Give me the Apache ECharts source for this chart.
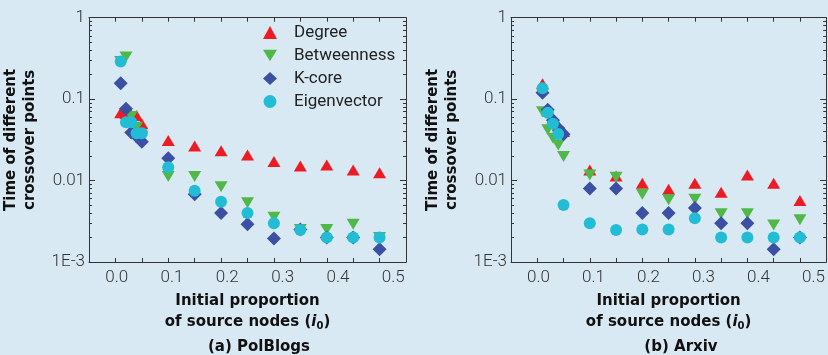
<!DOCTYPE html>
<html>
<head>
<meta charset="utf-8">
<script src="https://cdn.jsdelivr.net/npm/echarts@6/dist/echarts.min.js"></script>
<style>
  html, body { margin: 0; padding: 0; background: #d9e9f3; }
  #chart { width: 828px; height: 355px; }
</style>
</head>
<body>
<div id="chart"></div>
<script>
// initial proportion of source nodes
const xs = [0.01, 0.02, 0.03, 0.04, 0.05, 0.1, 0.15, 0.2, 0.25, 0.3, 0.35, 0.4, 0.45, 0.5]

// (a) PolBlogs
const degreeA = [0.068, 0.066, 0.064, 0.063, 0.05, 0.031, 0.0266, 0.0233, 0.0206, 0.0171, 0.0151, 0.0155, 0.0135, 0.0125]
const betweenA = [0.29, 0.33, 0.061, 0.045, 0.035, 0.0112, 0.0112, 0.0084, 0.00535, 0.00354, 0.0025, 0.0025, 0.0029, 0.002]
const kcoreA = [0.157, 0.076, 0.039, 0.035, 0.03, 0.0188, 0.0068, 0.004, 0.0029, 0.00195, 0.0025, 0.002, 0.002, 0.00143]
const eigenA = [0.29, 0.052, 0.052, 0.038, 0.038, 0.0146, 0.0075, 0.0055, 0.004, 0.003, 0.00247, 0.002, 0.002, 0.002]

// (b) Arxiv
const degreeB = [0.154, 0.072, 0.058, 0.047, 0.04, 0.0135, 0.0114, 0.0093, 0.0078, 0.0093, 0.0072, 0.0117, 0.0093, 0.0057]
const betweenB = [0.07, 0.042, 0.033, 0.0274, 0.0197, 0.0117, 0.011, 0.0068, 0.0058, 0.0059, 0.0039, 0.0039, 0.00285, 0.0033]
const kcoreB = [0.12, 0.074, 0.055, 0.044, 0.037, 0.008, 0.008, 0.004, 0.004, 0.0046, 0.003, 0.003, 0.00143, 0.002]
const eigenB = [0.136, 0.068, 0.05, 0.0374, 0.005, 0.003, 0.00247, 0.0025, 0.0025, 0.00344, 0.002, 0.002, 0.002, 0.002]

const names = ['Degree', 'Betweenness', 'K-core', 'Eigenvector']
const captions = ['(a) PolBlogs', '(b) Arxiv']

const xTicks = [0, 0.05, 0.1, 0.15, 0.2, 0.25, 0.3, 0.35, 0.4, 0.45, 0.5]
const xLabels = [0, 0.1, 0.2, 0.3, 0.4, 0.5]
const yMajor = [0.001, 0.01, 0.1, 1]
const yMajorText = ['1E-3', '0.01', '0.1', '1']
const yMinor = [0.002, 0.003, 0.004, 0.005, 0.006, 0.007, 0.008, 0.009,
  0.02, 0.03, 0.04, 0.05, 0.06, 0.07, 0.08, 0.09,
  0.2, 0.3, 0.4, 0.5, 0.6, 0.7, 0.8, 0.9]

const colors = ['#ed1c24', '#4fb848', '#3b50a3', '#22bdd4']
// inverted triangle drawn as a path so the legend shows it the same way
const symbols = ['triangle', 'path://M0,0L12,0L6,10Z', 'diamond', 'circle']
const symbolSizes = [[13, 11], [13, 11], 14, 12]

const axisColor = '#333'
const lightFont = { fontFamily: 'Roboto', fontWeight: 300, fontSize: 17, color: '#333' }
const boldFont = { fontFamily: 'DejaVu Sans', fontWeight: 'bold', fontSize: 15, color: '#111' }

const panels = [
  { left: 89, data: [degreeA, betweenA, kcoreA, eigenA] },
  { left: 511, data: [degreeB, betweenB, kcoreB, eigenB] }
]

const grid = []
const xAxis = []
const yAxis = []
const series = []
const title = []

panels.forEach((p, gi) => {
  grid.push({ left: p.left, top: 17.7, width: 317, height: 244.3 })
  const xBase = xAxis.length
  // main x axis (bottom line + ticks)
  xAxis.push({
    type: 'value', gridIndex: gi, min: -0.05, max: 0.55, position: 'bottom',
    axisLine: { onZero: false, lineStyle: { color: axisColor } },
    axisTick: { inside: true, length: 4, customValues: xTicks, lineStyle: { color: axisColor } },
    axisLabel: { show: false },
    splitLine: { show: false }
  })
  // top frame
  xAxis.push({
    type: 'value', gridIndex: gi, min: -0.05, max: 0.55, position: 'top',
    axisLine: { onZero: false, lineStyle: { color: axisColor } },
    axisTick: { inside: true, length: 4, customValues: xTicks, lineStyle: { color: axisColor } },
    axisLabel: { show: false },
    splitLine: { show: false }
  })
  // labels (spaced slightly wider than the ticks, as in the figure)
  xAxis.push({
    type: 'value', gridIndex: gi, min: -0.05, max: 0.523, position: 'bottom',
    axisLine: { show: false, onZero: false },
    axisTick: { show: false },
    splitLine: { show: false },
    axisLabel: Object.assign({ customValues: xLabels, margin: 7, formatter: v => v.toFixed(1) }, lightFont),
    name: 'Initial proportion\nof source nodes ({it|i}{sub|0})',
    nameLocation: 'middle',
    nameGap: 23,
    nameTextStyle: Object.assign({
      lineHeight: 21,
      rich: {
        it: Object.assign({}, boldFont, { fontStyle: 'italic', lineHeight: 21 }),
        sub: Object.assign({}, boldFont, { fontSize: 10, lineHeight: 21, padding: [8, 0, 0, 0] })
      }
    }, boldFont)
  })
  const yBase = yAxis.length
  ;['left', 'right'].forEach(pos => {
    yAxis.push({
      type: 'log', logBase: 10, gridIndex: gi, min: 0.001, max: 1, position: pos, offset: 0,
      axisLine: { onZero: false, lineStyle: { color: axisColor } },
      axisTick: { inside: true, length: 6, customValues: yMajor, lineStyle: { color: axisColor } },
      axisLabel: pos === 'left'
        ? Object.assign({
          customValues: yMajor, margin: 4,
          formatter: v => yMajorText[Math.round(Math.log10(v)) + 3]
        }, lightFont)
        : { show: false },
      splitLine: { show: false },
      name: pos === 'left' ? 'Time of different\ncrossover points' : '',
      nameLocation: 'middle',
      nameGap: 49,
      nameTextStyle: Object.assign({ lineHeight: 19 }, boldFont)
    })
    yAxis.push({
      type: 'log', logBase: 10, gridIndex: gi, min: 0.001, max: 1, position: pos, offset: 0,
      axisLine: { show: false, onZero: false },
      axisTick: { inside: true, length: 3, customValues: yMinor, lineStyle: { color: axisColor } },
      axisLabel: { show: false },
      splitLine: { show: false }
    })
  })
  p.data.forEach((vals, si) => {
    series.push({
      name: names[si],
      type: 'scatter',
      xAxisIndex: xBase,
      yAxisIndex: yBase,
      symbol: symbols[si],
      symbolSize: symbolSizes[si],
      itemStyle: { color: colors[si], opacity: 1 },
      emphasis: { disabled: true },
      data: xs.map((x, i) => [x, vals[i]])
    })
  })
  title.push({
    text: captions[gi],
    left: p.left + 165,
    top: 335,
    textAlign: 'center',
    textStyle: boldFont
  })
})

const option = {
  backgroundColor: '#d9e9f3',
  animation: false,
  title,
  legend: {
    data: names,
    orient: 'vertical',
    left: 263,
    top: 24,
    padding: 0,
    itemWidth: 14,
    itemHeight: 13,
    itemGap: 6,
    textStyle: { fontFamily: 'Roboto', fontSize: 17, color: '#222', padding: [0, 0, 0, 12] }
  },
  grid,
  xAxis,
  yAxis,
  series
}

const chart = echarts.init(document.getElementById('chart'))
chart.setOption(option)
</script>
</body>
</html>
